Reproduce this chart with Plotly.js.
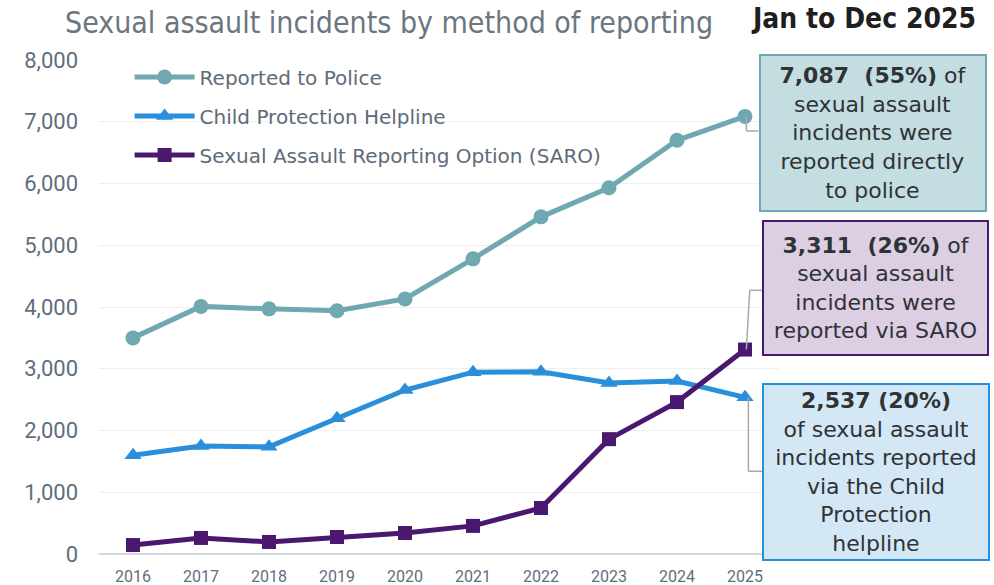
<!DOCTYPE html>
<html>
<head>
<meta charset="utf-8">
<script src="https://cdn.plot.ly/plotly-3.0.1.min.js"></script>
<style>
  body { margin: 0; background: #fff; }
  #chart { width: 994px; height: 585px; }
</style>
</head>
<body>
<div id="chart"></div>
<script>
// values
var years = ["2016","2017","2018","2019","2020","2021","2022","2023","2024","2025"];
var police = [3500, 4010, 3970, 3940, 4130, 4780, 5460, 5930, 6700, 7087];
var helpline = [1600, 1750, 1735, 2200, 2655, 2945, 2950, 2770, 2800, 2537];
var saro = [145, 260, 195, 275, 340, 455, 745, 1860, 2460, 3311];

var seriesNames = ["Reported to Police", "Child Protection Helpline", "Sexual Assault Reporting Option (SARO)"];
var colors = ["#6fa8b1", "#2a8fda", "#4b186f"];
var symbols = ["circle", "triangle-up", "square"];

var boxText = [
  "<b>7,087  (55%)</b> of<br>sexual assault<br>incidents were<br>reported directly<br>to police",
  "<b>3,311  (26%)</b> of<br>sexual assault<br>incidents were<br>reported via SARO",
  "<b>2,537 (20%)</b><br>of sexual assault<br>incidents reported<br>via the Child<br>Protection<br>helpline"
];

var mainFont = "'DejaVu Sans', sans-serif";
var titleFont = "'DejaVu Sans Condensed', 'DejaVu Sans', sans-serif";
var tickFont = "Roboto, sans-serif";

var all = [police, helpline, saro];
var data = [];
for (var i = 0; i < 3; i++) {
  data.push({
    x: years,
    y: all[i],
    name: seriesNames[i],
    type: "scatter",
    mode: "lines+markers",
    legendgroup: "g" + i,
    line: {color: colors[i], width: 5},
    marker: {symbol: symbols[i], size: i == 2 ? 14 : 15, color: colors[i]},
    cliponaxis: false,
    hoverinfo: "skip"
  });
}

var last = years.length - 1;
var grey = {color: "#a3abb1", width: 1.5};

// elbow connectors from the last points to the boxes
var shapes = [
  {type: "line", xref: "x", yref: "y", x0: last + 0.02, x1: last + 0.02, y0: police[last], y1: 6850, line: grey},
  {type: "line", xref: "x", yref: "y", x0: last + 0.02, x1: last + 0.2, y0: 6850, y1: 6850, line: grey},
  {type: "line", xref: "x", yref: "y", x0: last + 0.02, x1: last + 0.07, y0: saro[last], y1: 4270, line: grey},
  {type: "line", xref: "x", yref: "y", x0: last + 0.07, x1: last + 0.25, y0: 4270, y1: 4270, line: grey},
  {type: "line", xref: "x", yref: "y", x0: last + 0.05, x1: last + 0.05, y0: helpline[last], y1: 1340, line: grey},
  {type: "line", xref: "x", yref: "y", x0: last + 0.05, x1: last + 0.25, y0: 1340, y1: 1340, line: grey}
];

var boxFont = {family: mainFont, size: 22, color: "#2f3336"};

var annotations = [
  {
    xref: "paper", yref: "paper", x: 0.9706, y: 1.012, xanchor: "left", yanchor: "top",
    text: boxText[0], showarrow: false, align: "center", width: 216, height: 146,
    bgcolor: "#c4dde1", bordercolor: "#6fa8b1", borderwidth: 2, borderpad: 4,
    font: boxFont
  },
  {
    xref: "paper", yref: "paper", x: 0.975, y: 0.676, xanchor: "left", yanchor: "top",
    text: boxText[1], showarrow: false, align: "center", width: 215, height: 124,
    bgcolor: "#dccee3", bordercolor: "#4b186f", borderwidth: 2, borderpad: 4,
    font: boxFont
  },
  {
    xref: "paper", yref: "paper", x: 0.975, y: 0.346, xanchor: "left", yanchor: "top",
    text: boxText[2], showarrow: false, align: "center", width: 216, height: 166,
    bgcolor: "#d3e7f5", bordercolor: "#2a8fda", borderwidth: 2, borderpad: 4,
    font: boxFont
  },
  {
    xref: "paper", yref: "paper", x: 1.293, y: 1.085, xanchor: "right", yanchor: "middle",
    text: "<b>Jan to Dec 2025</b>", showarrow: false,
    font: {family: titleFont, size: 28, color: "#1f1f1f"}
  }
];

var layout = {
  width: 994,
  height: 585,
  margin: {l: 99, r: 215, t: 60, b: 31},
  paper_bgcolor: "#fff",
  plot_bgcolor: "#fff",
  title: {
    text: "Sexual assault incidents by method of reporting",
    xref: "container", yref: "container",
    x: 65 / 994, xanchor: "left", y: 1 - 22 / 585, yanchor: "middle",
    font: {family: titleFont, size: 30, color: "#6b7680"}
  },
  xaxis: {
    type: "category",
    range: [-0.5, 9.5],
    showgrid: false,
    showline: false,
    zeroline: false,
    ticks: "",
    ticklabelstandoff: 11,
    tickfont: {family: tickFont, size: 16, color: "#5f6e7c"}
  },
  yaxis: {
    range: [0, 8000],
    dtick: 1000,
    tickformat: ",",
    showgrid: true,
    gridcolor: "#efefef",
    zeroline: true,
    zerolinecolor: "#d4d8dc",
    zerolinewidth: 2,
    ticks: "",
    ticklabelstandoff: 20,
    tickfont: {family: tickFont, size: 22, color: "#5f6e7c"}
  },
  showlegend: true,
  legend: {
    x: 0.045, y: 1.005, xanchor: "left", yanchor: "top",
    traceorder: "grouped",
    tracegroupgap: 10,
    bgcolor: "rgba(255,255,255,0)",
    font: {family: mainFont, size: 20, color: "#5d6b78"},
    itemwidth: 60
  },
  shapes: shapes,
  annotations: annotations
};

Plotly.newPlot("chart", data, layout, {displayModeBar: false, staticPlot: true});
</script>
</body>
</html>
